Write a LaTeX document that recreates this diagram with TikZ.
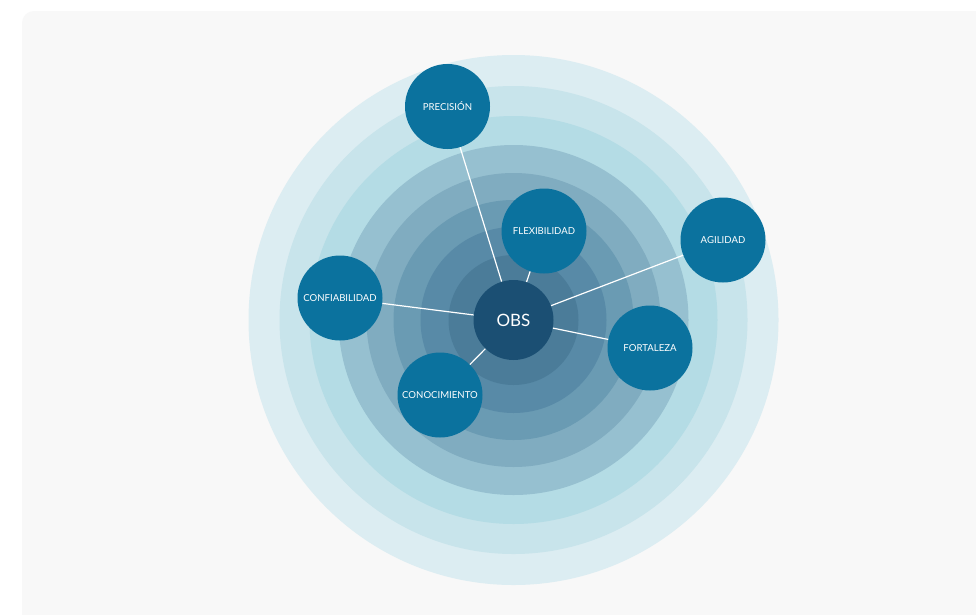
\documentclass[tikz,border=0pt]{standalone}
\usepackage{fontspec}
\setmainfont{Lato}
\definecolor{bgc}{HTML}{F8F8F8}
\definecolor{r1}{HTML}{DCEDF2}
\definecolor{r2}{HTML}{C8E4EB}
\definecolor{r3}{HTML}{B4DCE5}
\definecolor{r4}{HTML}{96C0D0}
\definecolor{r5}{HTML}{80ACC0}
\definecolor{r6}{HTML}{6A9BB3}
\definecolor{r7}{HTML}{588AA7}
\definecolor{r8}{HTML}{4B7C99}
\definecolor{nodec}{HTML}{0B729E}
\definecolor{obsc}{HTML}{1B4F73}
\tikzset{
  sat/.style={circle, fill=nodec, minimum size=85pt, inner sep=0pt, text=white, font=\fontsize{9.6}{11}\selectfont},
  hub/.style={circle, fill=obsc, minimum size=80pt, inner sep=0pt, text=white, font=\fontsize{17}{20}\selectfont},
  link/.style={draw=white, line width=1.2pt}
}
\begin{document}
\begin{tikzpicture}[x=1pt,y=-1pt]
\useasboundingbox (0,0) rectangle (976,614);
\clip (0,0) rectangle (976,614);
\fill[white] (0,0) rectangle (976,614);
\fill[bgc, rounded corners=12pt] (22,11) rectangle (1000,640);
\coordinate (c) at (513.5,320);
\fill[r1] (c) circle (265);
\fill[r2] (c) circle (234);
\fill[r3] (c) circle (204);
\fill[r4] (c) circle (175);
\fill[r5] (c) circle (147);
\fill[r6] (c) circle (120);
\fill[r7] (c) circle (93);
\fill[r8] (c) circle (65);
\node[hub] (obs) at (c) {OBS};
\node[sat] (pre) at (447.5,106.5) {PRECISIÓN};
\node[sat] (fle) at (544,231) {FLEXIBILIDAD};
\node[sat] (agi) at (723,240) {AGILIDAD};
\node[sat] (con) at (340,298) {CONFIABILIDAD};
\node[sat] (for) at (650,348) {FORTALEZA};
\node[sat] (cno) at (440,395) {CONOCIMIENTO};
\foreach \n in {pre,fle,agi,con,for,cno} {
  \draw[link] (obs) -- (\n);
}
\end{tikzpicture}
\end{document}
